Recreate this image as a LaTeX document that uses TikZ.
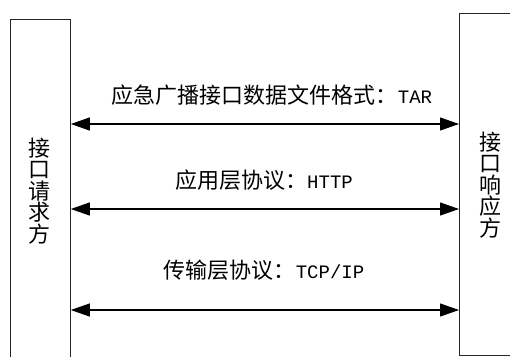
\documentclass[tikz,border=0pt]{standalone}
\usepackage{fontspec}
\setmainfont{Noto Sans CJK SC}
\newfontfamily\latmono{Liberation Mono}
\usetikzlibrary{arrows.meta}

\tikzset{
  box/.style={draw=black!85, line width=1.3pt, minimum width=60pt, inner sep=0pt},
  link/.style={line width=1.1pt, {Triangle[length=19pt,width=13pt]}-{Triangle[length=19pt,width=13pt]}},
  proto/.style={font=\fontsize{22}{24}\selectfont},
  side/.style={font=\fontsize{22}{21.5}\selectfont, align=center, inner sep=0pt}
}

\begin{document}
\begin{tikzpicture}[x=1pt,y=-1pt]
        \useasboundingbox (0,0) rectangle (510,356);
        \clip (0,0) rectangle (510,356);
        
        % os dois lados
        \node[box, minimum width=60pt, minimum height=380pt, anchor=north west] (req) at (9.5,19) {};
        \node[box, minimum width=80pt, minimum height=342.5pt, anchor=north west] (resp) at (459,12.5) {};
        
        \node[side] (reqtxt) at (39,191) {接\\口\\请\\求\\方};
        \node[side] (resptxt) at (490,185) {接\\口\\响\\应\\方};
        
        % as setas
        \coordinate (a1) at (0,124);
        \coordinate (a2) at (0,209);
        \coordinate (a3) at (0,310);
        \draw[link] (req.east |- a1) -- (resp.west |- a1);
        \draw[link] (req.east |- a2) -- (resp.west |- a2);
        \draw[link] (req.east |- a3) -- (resp.west |- a3);
        
        \node[proto] (lab1) at (272,95) {应急广播接口数据文件格式：{\latmono\fontsize{19}{22}\selectfont TAR}};
        \node[proto] (lab2) at (264,180) {应用层协议：{\latmono\fontsize{19}{22}\selectfont HTTP}};
        \node[proto] (lab3) at (264,270) {传输层协议：{\latmono\fontsize{19}{22}\selectfont TCP/IP}};
        
    \end{tikzpicture}
\end{document}
